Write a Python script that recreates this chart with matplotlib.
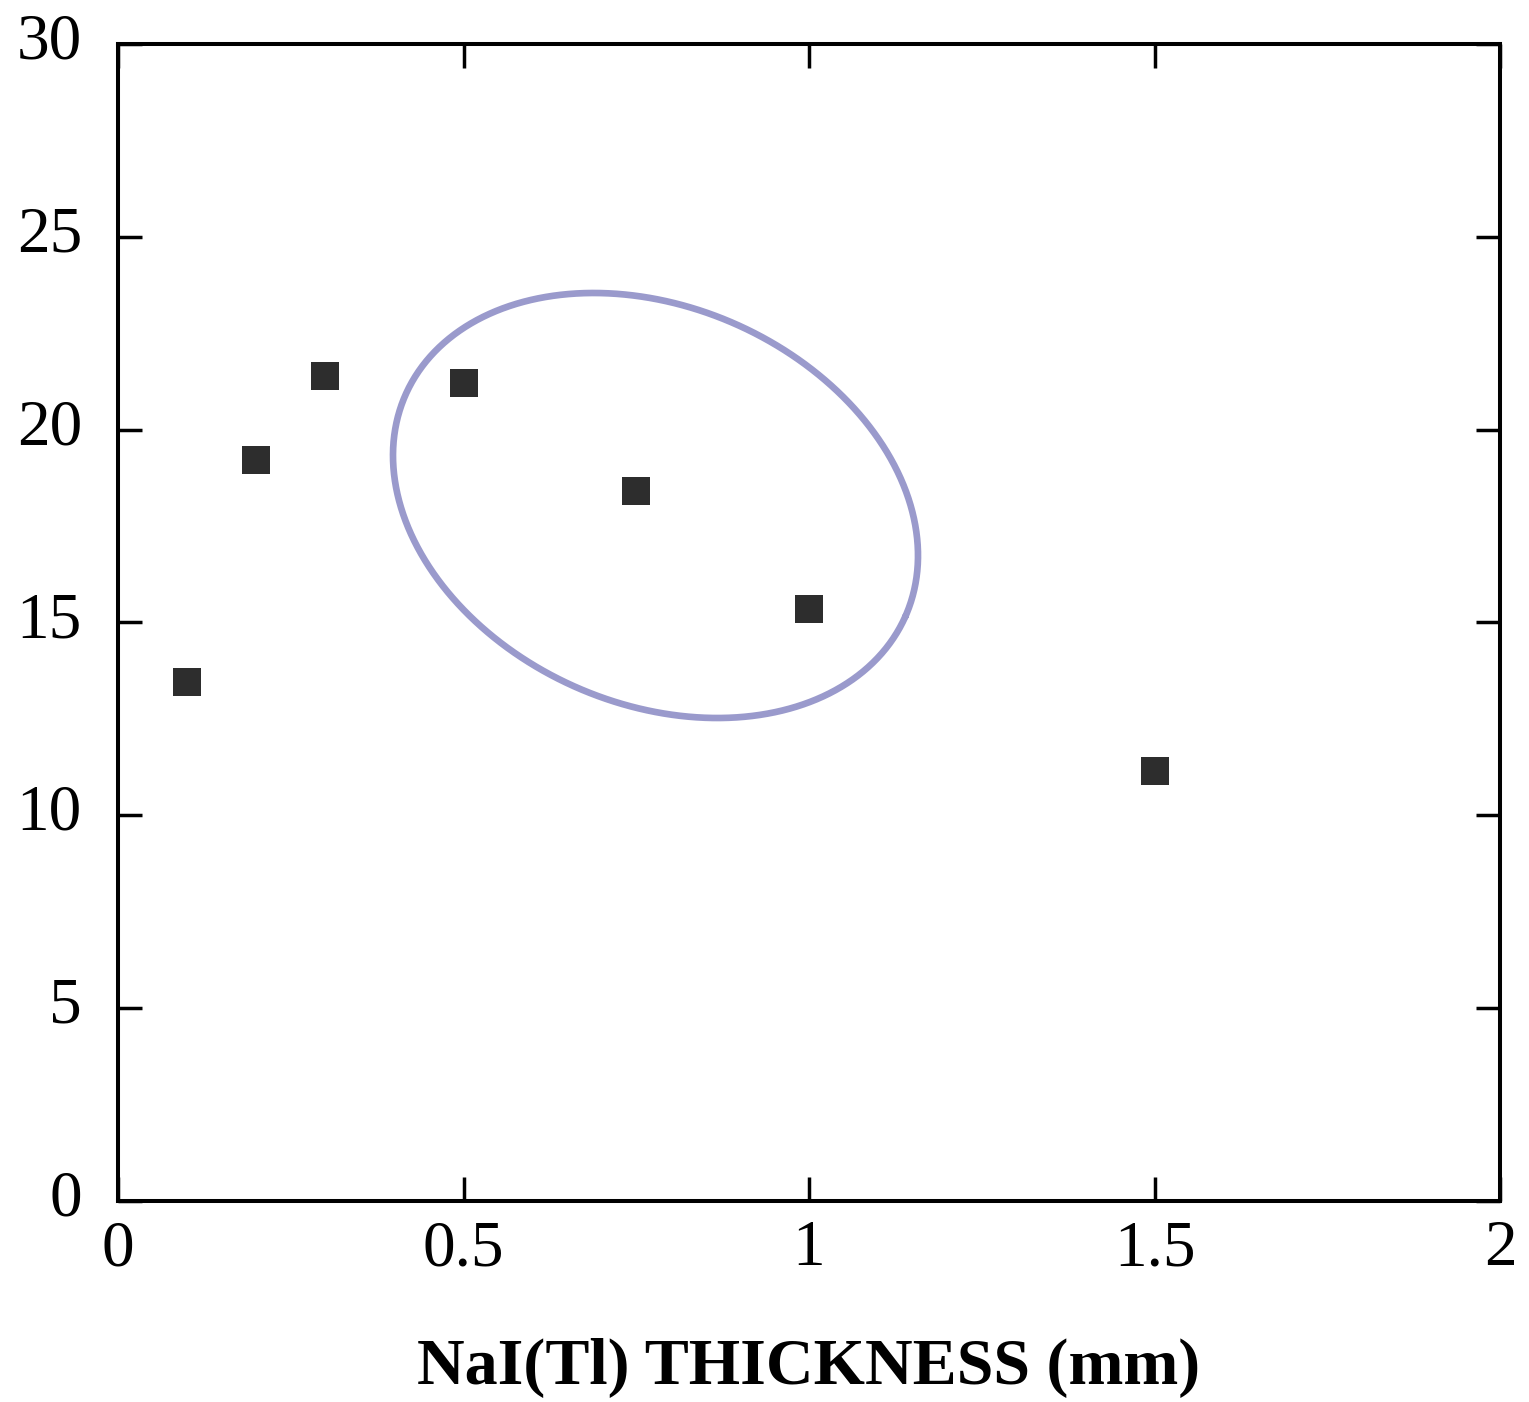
import numpy as np
import matplotlib
matplotlib.use("Agg")
import matplotlib.pyplot as plt
from matplotlib.transforms import offset_copy

thickness = [0.1, 0.2, 0.3, 0.5, 0.75, 1.0, 1.5]
values = [13.45, 19.2, 21.4, 21.2, 18.4, 15.35, 11.15]
xticks = [0, 0.5, 1, 1.5, 2]
xticklabels = ["0", "0.5", "1", "1.5", "2"]
yticks = [0, 5, 10, 15, 20, 25, 30]
yticklabels = ["0", "5", "10", "15", "20", "25", "30"]
xlabel = "NaI(Tl) THICKNESS (mm)"

plt.rcParams['font.family'] = ['Liberation Serif', 'DejaVu Serif']

W, H = 1529, 1402
fig = plt.figure(figsize=(W / 100, H / 100), dpi=100)
ax = fig.add_axes([118 / W, 1 - 1200.5 / H, (1500 - 118) / W, (1200.5 - 44) / H])
ax.set_xlim(0, 2)
ax.set_ylim(0, 30)

ax.plot(thickness, values, linestyle='none', marker='s', markersize=19.5,
        color='#2d2d2d', markeredgewidth=0)

# Ellipse highlight (defined in display/pixel space, converted to data)
cx_px, cy_px = 655.5, 505.5   # pixel centre (image coords, y down)
a_px, b_px, theta = 273.4, 198.3, np.deg2rad(23.95)
t = np.linspace(0, 2 * np.pi, 400)
ex = cx_px + a_px * np.cos(theta) * np.cos(t) - b_px * np.sin(theta) * np.sin(t)
ey = cy_px + a_px * np.sin(theta) * np.cos(t) + b_px * np.cos(theta) * np.sin(t)
disp = np.column_stack([ex, H - ey])
data = ax.transData.inverted().transform(disp)
ax.plot(data[:, 0], data[:, 1], color='#9a9acc', linewidth=4.8, solid_capstyle='round')

for s in ax.spines.values():
    s.set_linewidth(2.9)
ax.tick_params(direction='in', length=17.5, width=2.5, top=True, right=True,
               labelsize=47, pad=0)
ax.set_xticks(xticks)
ax.set_xticklabels(xticklabels)
ax.set_yticks(yticks)
ax.set_yticklabels(yticklabels)
ax.tick_params(axis='y', pad=26)
ax.tick_params(axis='x', pad=14)
for lab in ax.get_yticklabels():
    lab.set_transform(offset_copy(lab.get_transform(), fig=fig, x=0, y=8, units='dots'))

ax.set_xlabel(xlabel, fontsize=47.5, fontweight='bold', labelpad=42)

fig.savefig("out.png", dpi=100)
